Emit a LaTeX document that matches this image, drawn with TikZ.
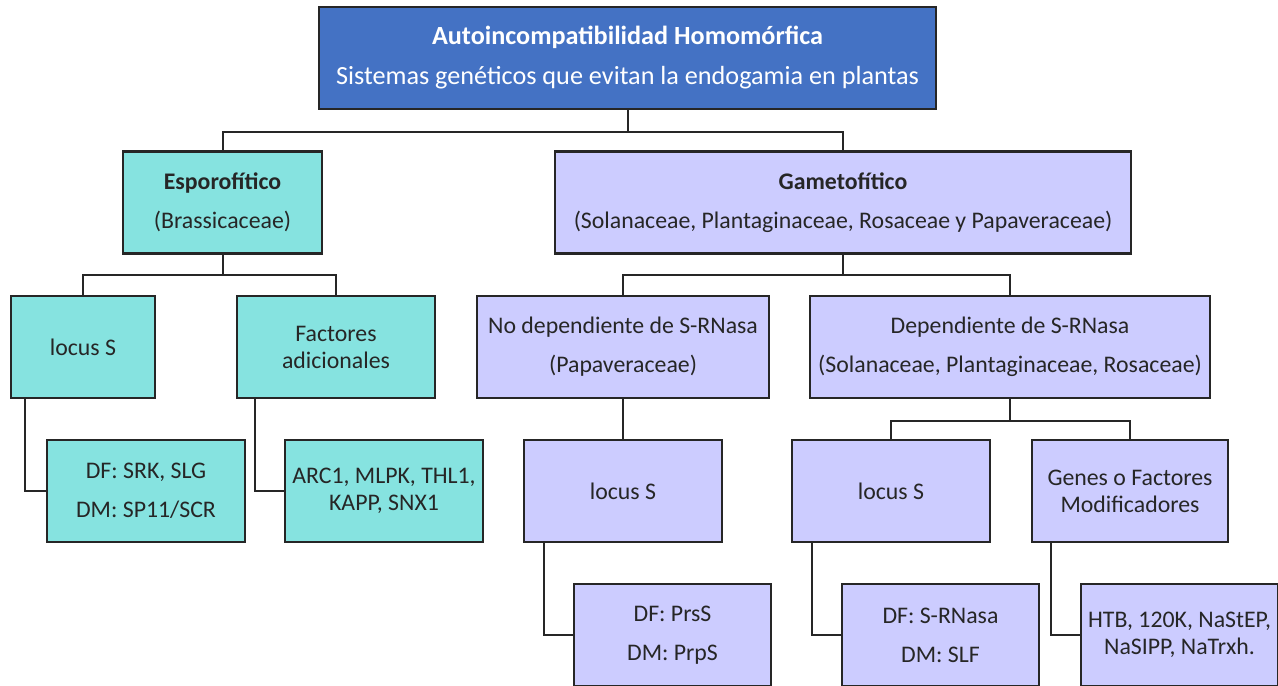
\documentclass[tikz,border=0pt]{standalone}
\usepackage{fontspec}
\setmainfont{Carlito}
\usepackage{tikz}
\definecolor{azul}{HTML}{4472C4}
\definecolor{turq}{HTML}{86E3E0}
\definecolor{lila}{HTML}{CCCCFF}
\definecolor{texto}{HTML}{262626}

\begin{document}
\begin{tikzpicture}[line cap=butt,line join=miter,x=0.5pt,y=-0.5pt,
  caja/.style={draw=black!85,line width=1.3pt,inner sep=0pt,align=center,
    minimum height=51pt,text=texto,font=\fontsize{11.9}{13.5}\selectfont},
  esp/.style={caja,fill=turq},
  gam/.style={caja,fill=lila},
  linea/.style={draw=black!85,line width=1pt}]
\useasboundingbox (0,0) rectangle (1278,685);
% raiz
\node[caja,fill=azul,text=white,minimum width=308.5pt,font=\fontsize{13.1}{15}\selectfont] (raiz) at (627.5,58)
  {\textbf{Autoincompatibilidad Homomórfica}\\[5pt]Sistemas genéticos que evitan la endogamia en plantas};
% primer nivel
\node[esp,minimum width=99.5pt] (esporo) at (222.5,202.5) {\textbf{Esporofítico}\\[6pt](Brassicaceae)};
\node[gam,minimum width=288pt] (gameto) at (843,202.5)
  {\textbf{Gametofítico}\\[6pt](Solanaceae, Plantaginaceae, Rosaceae y Papaveraceae)};
% segundo nivel
\node[esp,minimum width=72pt] (locusA) at (83,347) {locus S};
\node[esp,minimum width=99pt] (factores) at (336,347) {Factores\\adicionales};
\node[gam,minimum width=146pt] (nodep) at (623,347) {No dependiente de S-RNasa\\[6pt](Papaveraceae)};
\node[gam,minimum width=200pt] (dep) at (1010,347)
  {Dependiente de S-RNasa\\[6pt](Solanaceae, Plantaginaceae, Rosaceae)};
% tercer nivel
\node[esp,minimum width=99pt] (srk) at (146,491) {DF: SRK, SLG\\[6pt]DM: SP11/SCR};
\node[esp,minimum width=99pt] (arc) at (384,491) {ARC1, MLPK, THL1,\\KAPP, SNX1};
\node[gam,minimum width=99pt] (locusB) at (623,491) {locus S};
\node[gam,minimum width=99pt] (locusC) at (891,491) {locus S};
\node[gam,minimum width=98pt] (genes) at (1130,491) {Genes o Factores\\Modificadores};
% cuarto nivel
\node[gam,minimum width=98.5pt] (prss) at (672.5,635) {DF: PrsS\\[6pt]DM: PrpS};
\node[gam,minimum width=98.5pt] (srnasa) at (940.5,635) {DF: S-RNasa\\[6pt]DM: SLF};
\node[gam,minimum width=98.5pt] (htb) at (1179.5,635) {HTB, 120K, NaStEP,\\NaSIPP, NaTrxh.};
% conectores
\draw[linea] (raiz.south) -- ++(0,22) -| (esporo.north);
\draw[linea] (raiz.south) -- ++(0,22) -| (gameto.north);
\draw[linea] (esporo.south) -- ++(0,20) -| (locusA.north);
\draw[linea] (esporo.south) -- ++(0,20) -| (factores.north);
\draw[linea] (gameto.south) -- ++(0,20) -| (nodep.north);
\draw[linea] (gameto.south) -- ++(0,20) -| (dep.north);
\draw[linea] (nodep.south) -- (locusB.north);
\draw[linea] (dep.south) -- ++(0,22) -| (locusC.north);
\draw[linea] (dep.south) -- ++(0,22) -| (genes.north);
\draw[linea] ([xshift=7.5pt]locusA.south west) |- (srk.west);
\draw[linea] ([xshift=9.5pt]factores.south west) |- (arc.west);
\draw[linea] ([xshift=10.5pt]locusB.south west) |- (prss.west);
\draw[linea] ([xshift=10.5pt]locusC.south west) |- (srnasa.west);
\draw[linea] ([xshift=10pt]genes.south west) |- (htb.west);
\end{tikzpicture}
\end{document}
